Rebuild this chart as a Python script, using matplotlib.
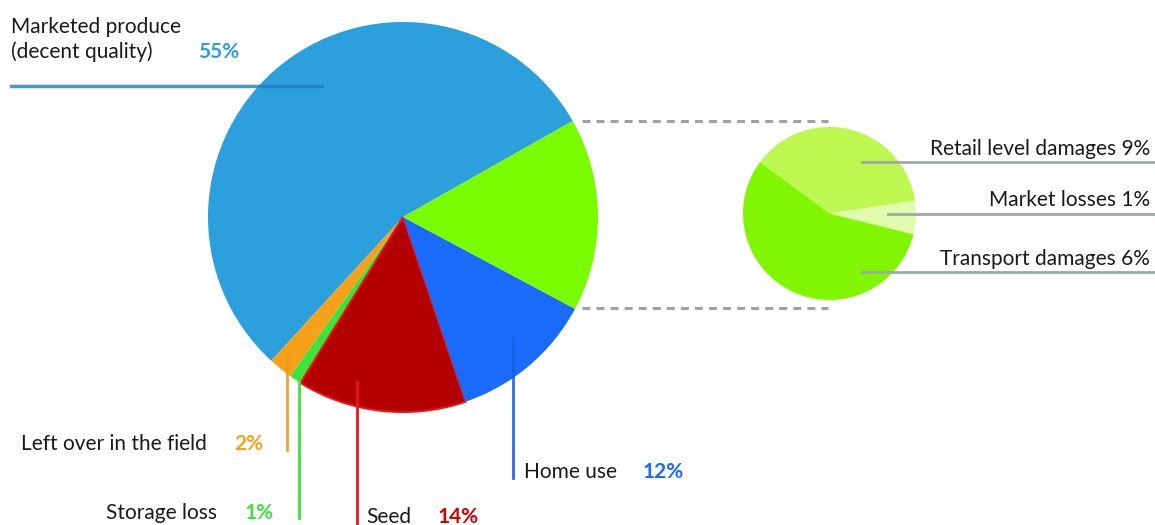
import matplotlib.pyplot as plt

W, H = 1155, 525

# main pie, counter-clockwise from the top-right edge of "Marketed produce"
main_names = ["Marketed produce", "Left over in the field", "Storage loss",
              "Seed", "Home use", "Losses after harvest"]
main_values = [55, 2, 1, 14, 12, 16]
main_colors = ["#2ca0dc", "#f7a11a", "#3de23a", "#b30000", "#1a6bfa", "#7afc00"]

# breakdown pie (slice sizes as drawn), clockwise
loss_labels = ["Retail level damages 9%", "Market losses 1%", "Transport damages 6%"]
loss_values = [6, 1, 9]
loss_colors = ["#bdf74f", "#e2fcae", "#80f700"]

TXT = "#1a1a1a"
FONT = ["Lato", "DejaVu Sans"]
FS = 15
DY = 2  # small nudge for text baselines


def Y(p):
    return H - p


fig = plt.figure(figsize=(W / 100, H / 100), dpi=100)
ax = fig.add_axes([0, 0, 1, 1])

wedges, _ = ax.pie(main_values, colors=main_colors, startangle=29.5,
                   counterclock=True, center=(403, Y(217)), radius=195,
                   wedgeprops=dict(linewidth=0))
wedges[3].set_edgecolor("#e8141c")
wedges[3].set_linewidth(1.5)

ax.pie(loss_values, colors=loss_colors, startangle=143.5, counterclock=False,
       center=(829.5, Y(213.5)), radius=86.5, wedgeprops=dict(linewidth=0))

ax.set_xlim(0, W)
ax.set_ylim(0, H)
ax.set_aspect("equal")
ax.axis("off")

# dashed connectors
for yp in (121, 308):
    ax.plot([582, 828], [Y(yp), Y(yp)], color="#9aa2a5", lw=2.2,
            dashes=(2.6, 2.0), solid_capstyle="butt")

# right labels with gray leaders
for lab, ty, ly, x0 in zip(loss_labels, [147, 198, 257], [162, 214, 272], [862, 888, 862]):
    ax.text(1150, Y(ty + DY), lab, ha="right", va="center", fontsize=FS,
            color=TXT, family=FONT)
    ax.plot([x0, 1155], [Y(ly), Y(ly)], color="#9ea7aa", lw=2)

# marketed produce
ax.text(11, Y(25 + DY), "Marketed produce", ha="left", va="center", fontsize=FS,
        color=TXT, family=FONT)
ax.text(11, Y(50 + DY), "(decent quality)", ha="left", va="center", fontsize=FS,
        color=TXT, family=FONT)
ax.text(198, Y(50 + DY), f"{main_values[0]}%", ha="left", va="center", fontsize=FS,
        color=main_colors[0], family=FONT, fontweight="bold")
ax.plot([11, 322], [Y(86), Y(86)], color=(0.1, 0.5, 0.75, 0.8), lw=2.5)

# bottom labels: (index, line x, line y0, line y1, text x, text y, right aligned)
bottom = [
    (1, 287, 355, 450, 207, 442, True),
    (2, 299, 378, 518, 217, 511, True),
    (3, 357, 382, 525, 366, 515, False),
    (4, 513, 338, 478, 524, 470, False),
]
pct_colors = {1: "#f7a11a", 2: "#3de23a", 3: "#d40000", 4: "#1a6bfa"}
line_colors = {1: (0.93, 0.6, 0.1, 0.9), 2: "#3de23a", 3: "#e8141c",
               4: (0.1, 0.36, 0.88, 0.9)}
pct_gap = {1: 27, 2: 28, 3: 72, 4: 119}

for i, lx, y0, y1, tx, ty, right in bottom:
    ax.plot([lx, lx], [Y(y0), Y(y1)], color=line_colors[i], lw=2)
    ax.text(tx, Y(ty + DY), main_names[i], ha="right" if right else "left",
            va="center", fontsize=FS, color=TXT, family=FONT)
    ax.text(tx + pct_gap[i], Y(ty + DY), f"{main_values[i]}%", ha="left",
            va="center", fontsize=FS, color=pct_colors[i], family=FONT,
            fontweight="bold")

fig.savefig("out.png", dpi=100)
